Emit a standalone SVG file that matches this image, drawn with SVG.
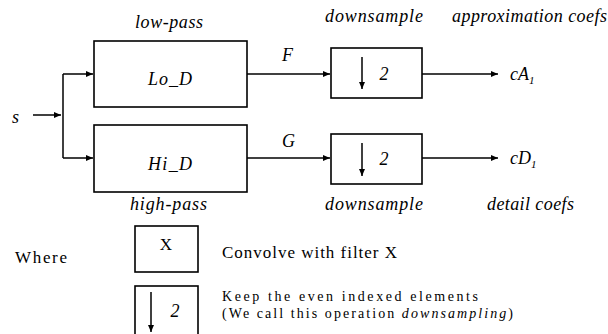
<svg xmlns="http://www.w3.org/2000/svg" width="608" height="334" viewBox="0 0 608 334">
<style>
.box{fill:none;stroke:#000;stroke-width:1.6}
.ln{fill:none;stroke:#000;stroke-width:1.5}
.it{font-family:"Liberation Serif","DejaVu Serif",serif;font-style:italic;font-size:18px;fill:#000}
.rm{font-family:"Liberation Serif","DejaVu Serif",serif;font-size:17px;fill:#000}
.sm{font-size:14px}
</style>
<defs>
<marker id="ah" markerUnits="userSpaceOnUse" markerWidth="8" markerHeight="8" refX="7" refY="4" orient="auto">
<path d="M0,1 L7,4 L0,7 Z" fill="#000"/>
</marker>
</defs>
<rect width="608" height="334" fill="#fff"/>
<g id="connectors">
<line class="ln" x1="33" y1="115" x2="61" y2="115" marker-end="url(#ah)"/>
<line class="ln" x1="63" y1="74" x2="63" y2="158"/>
<line class="ln" x1="63" y1="74" x2="93" y2="74" marker-end="url(#ah)"/>
<line class="ln" x1="63" y1="158" x2="93" y2="158" marker-end="url(#ah)"/>
<line class="ln" x1="247" y1="74" x2="330" y2="74" marker-end="url(#ah)"/>
<line class="ln" x1="247" y1="158" x2="330" y2="158" marker-end="url(#ah)"/>
<line class="ln" x1="422" y1="74" x2="498" y2="74" marker-end="url(#ah)"/>
<line class="ln" x1="422" y1="158" x2="498" y2="158" marker-end="url(#ah)"/>
<text class="it" x="282" y="61">F</text>
<text class="it" x="282" y="147">G</text>
</g>
<g id="input">
<text class="it" x="12" y="123">s</text>
</g>
<g id="lo_d">
<rect class="box" x="94" y="41" width="153" height="66"/>
<text class="it" x="148" y="85" textLength="44">Lo_D</text>
<text class="it" x="135" y="28" textLength="68">low-pass</text>
</g>
<g id="hi_d">
<rect class="box" x="94" y="125" width="153" height="67"/>
<text class="it" x="148" y="170" textLength="44">Hi_D</text>
<text class="it" x="130" y="210" textLength="77">high-pass</text>
</g>
<g id="ds_top">
<rect class="box" x="331" y="48" width="91" height="50"/>
<line class="ln" x1="362" y1="57" x2="362" y2="89" marker-end="url(#ah)"/>
<text class="it" x="384" y="80" text-anchor="middle">2</text>
<text class="it" x="325" y="22" textLength="98">downsample</text>
</g>
<g id="ds_bot">
<rect class="box" x="331" y="134" width="91" height="50"/>
<line class="ln" x1="362" y1="143" x2="362" y2="176" marker-end="url(#ah)"/>
<text class="it" x="384" y="165" text-anchor="middle">2</text>
<text class="it" x="325" y="210" textLength="98">downsample</text>
</g>
<g id="cA1">
<text class="it" x="510" y="80">cA<tspan font-size="11" dy="4">1</tspan></text>
<text class="it" x="452" y="22" textLength="155">approximation coefs</text>
</g>
<g id="cD1">
<text class="it" x="510" y="164">cD<tspan font-size="11" dy="4">1</tspan></text>
<text class="it" x="487" y="210" textLength="87">detail coefs</text>
</g>
<g id="legend">
<text class="rm" x="15" y="263" textLength="52">Where</text>
<rect class="box" x="135" y="226" width="63" height="46"/>
<text class="rm" x="166" y="250" text-anchor="middle">X</text>
<text class="rm" x="222" y="258" textLength="175">Convolve with filter X</text>
<rect class="box" x="135" y="286" width="63" height="52"/>
<line class="ln" x1="151" y1="292" x2="151" y2="332" marker-end="url(#ah)"/>
<text class="it" x="175" y="317" text-anchor="middle">2</text>
<text class="rm sm" x="222" y="301" textLength="256">Keep the even indexed elements</text>
<text class="rm sm" x="222" y="318" textLength="291">(We call this operation <tspan font-style="italic">downsampling</tspan>)</text>
</g>
</svg>
